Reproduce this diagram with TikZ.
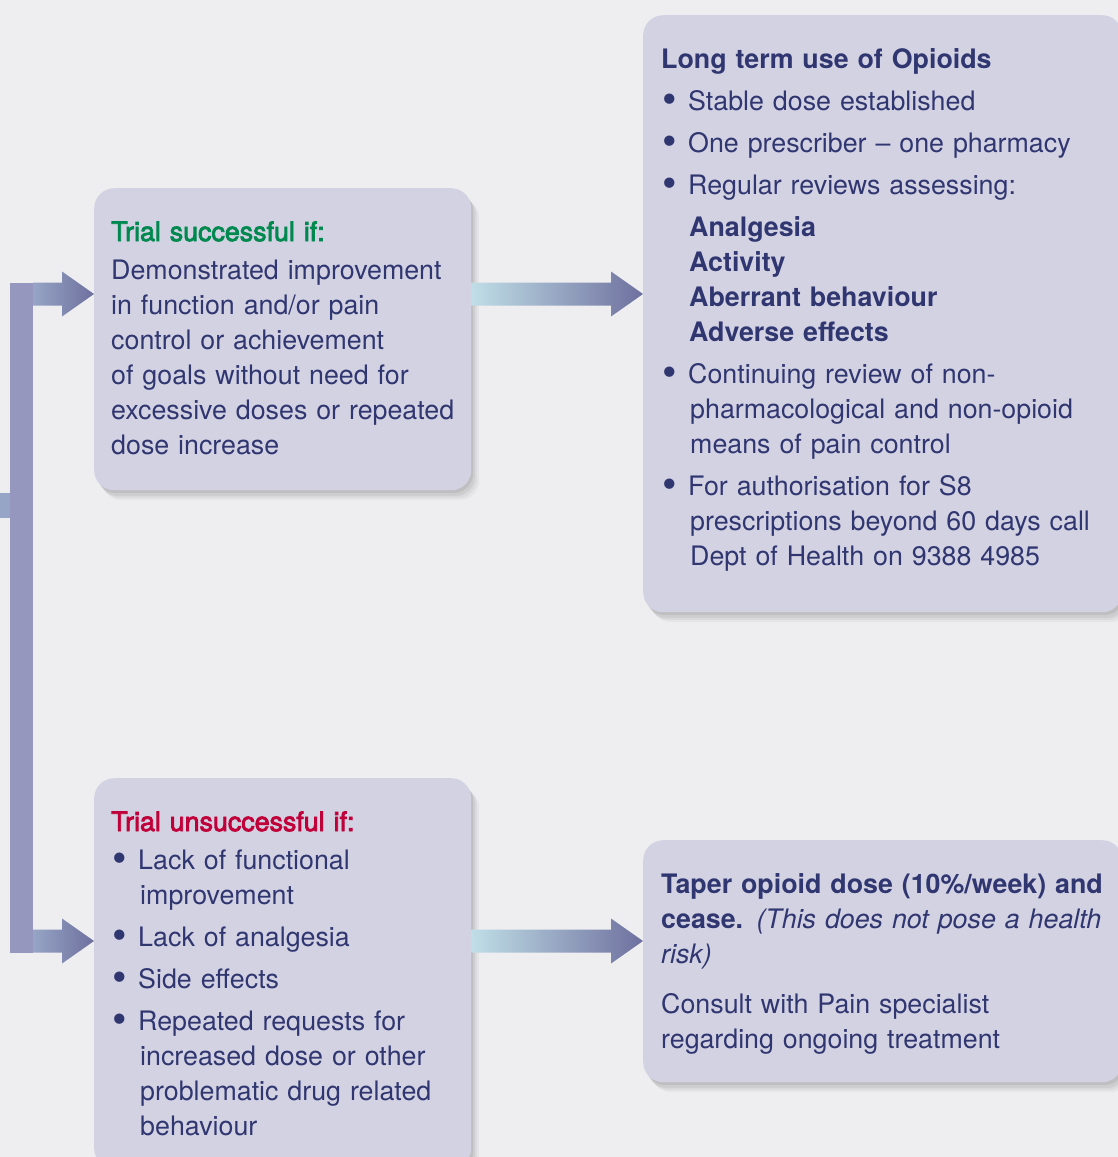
\documentclass[tikz,border=0pt]{standalone}
\usepackage{fontspec}
\setmainfont{TeX Gyre Heros}
\newfontfamily\medfont[FakeBold=3]{TeX Gyre Heros}
\usetikzlibrary{calc,shadows}

\definecolor{bgcol}{RGB}{238,238,241}
\definecolor{boxfill}{RGB}{211,210,227}
\definecolor{navy}{RGB}{48,54,112}
\definecolor{okgreen}{RGB}{0,137,79}
\definecolor{badred}{RGB}{192,0,56}
\definecolor{trunk}{RGB}{150,151,190}
\definecolor{armlight}{RGB}{150,165,197}
\definecolor{arrowlight}{RGB}{192,222,231}
\definecolor{arrowdark}{RGB}{110,112,158}

\tikzset{
  box/.style={draw=none, fill=boxfill, rounded corners=20pt, anchor=north west,
    drop shadow={shadow xshift=8pt, shadow yshift=-10pt, opacity=.035, fill=black},
    drop shadow={shadow xshift=6pt, shadow yshift=-8pt, opacity=.045, fill=black},
    drop shadow={shadow xshift=4pt, shadow yshift=-6pt, opacity=.055, fill=black},
    drop shadow={shadow xshift=2pt, shadow yshift=-3pt, opacity=.07, fill=black}},
  txt/.style={anchor=base west, inner sep=0pt, text=navy, text width=#1,
    font=\fontsize{26.8}{35}\selectfont,
    execute at begin node={\setlength{\parindent}{0pt}\setlength{\parskip}{7pt}\raggedright}}
}

% bullet item, hanging text
\newcommand\bigdot{\raisebox{-0.12em}{\scalebox{1.55}{\textbullet}}}
\newcommand\bitem[1]{\par{\leftskip=29pt\noindent\llap{\makebox[29pt][l]{\kern1pt\bigdot}}\kern-2pt#1\par}}
% fat shaded arrow: start, tip, light colour
\newcommand\fatarrow[3]{%
  \shade[left color=#3, right color=arrowdark]
    ($#1+(0,-11.5)$) -- ($#2+(-32,-11.5)$) -- ($#2+(-32,-22.5)$) -- #2
    -- ($#2+(-32,22.5)$) -- ($#2+(-32,11.5)$) -- ($#1+(0,11.5)$) -- cycle;}

\begin{document}
\begin{tikzpicture}[x=1pt,y=-1pt]
\useasboundingbox (0,0) rectangle (1118,1157);
\fill[bgcol] (0,0) rectangle (1118,1157);

% boxes
\node[box, minimum width=377pt, minimum height=302pt] (succ) at (94,188) {};
\node[box, minimum width=479pt, minimum height=597pt] (longterm) at (643,15) {};
\node[box, minimum width=377pt, minimum height=390pt] (unsucc) at (94,778) {};
\node[box, minimum width=479pt, minimum height=242pt] (taper) at (643,840) {};

% texts
\node[txt=380pt] (succtext) at (111,241) {%
  {\medfont\color{okgreen}Trial successful if:}\par\vskip-4pt
  Demonstrated improvement\\
  in function and/or pain\\
  control or achievement\\
  of goals without need for\\
  excessive doses or repeated\\
  dose increase};

\node[txt=460pt] (longtext) at (661,68) {%
  \textbf{Long term use of Opioids}
  \bitem{Stable dose established}
  \bitem{One prescriber – one pharmacy}
  \bitem{Regular reviews assessing:}
  {\leftskip=28pt\bfseries Analgesia\\ Activity\\ Aberrant behaviour\\ Adverse effects\par}
  \bitem{Continuing review of non-\\ pharmacological and non-opioid\\ means of pain control}
  \bitem{For authorisation for S8\\ prescriptions beyond 60 days call\\ Dept of Health on 9388 4985}};

\node[txt=380pt] (unsucctext) at (111,831) {%
  {\medfont\color{badred}Trial unsuccessful if:}\par\vskip-4pt
  \bitem{Lack of functional\\ improvement}
  \bitem{Lack of analgesia}
  \bitem{Side effects}
  \bitem{Repeated requests for\\ increased dose or other\\ problematic drug related\\ behaviour}};

\node[txt=470pt] (tapertext) at (661,893) {%
  \textbf{Taper opioid dose (10\%/week) and}\\
  \textbf{cease.} \textit{(This does not pose a health}\\
  \textit{risk)}\par\vskip8pt
  Consult with Pain specialist\\
  regarding ongoing treatment};

% connectors
\coordinate (jtop) at (0,294);
\coordinate (jbot) at (0,941);
\coordinate (jin) at (0,505);
\fill[armlight] (jin |- 0,493) rectangle (10,518);
\fill[trunk] (10,283) rectangle (33,953);
\fatarrow{(33,294)}{(succ.west |- jtop)}{armlight}
\fatarrow{(33,941)}{(unsucc.west |- jbot)}{armlight}
\fatarrow{(succ.east |- jtop)}{(longterm.west |- jtop)}{arrowlight}
\fatarrow{(unsucc.east |- jbot)}{(taper.west |- jbot)}{arrowlight}
\end{tikzpicture}
\end{document}
